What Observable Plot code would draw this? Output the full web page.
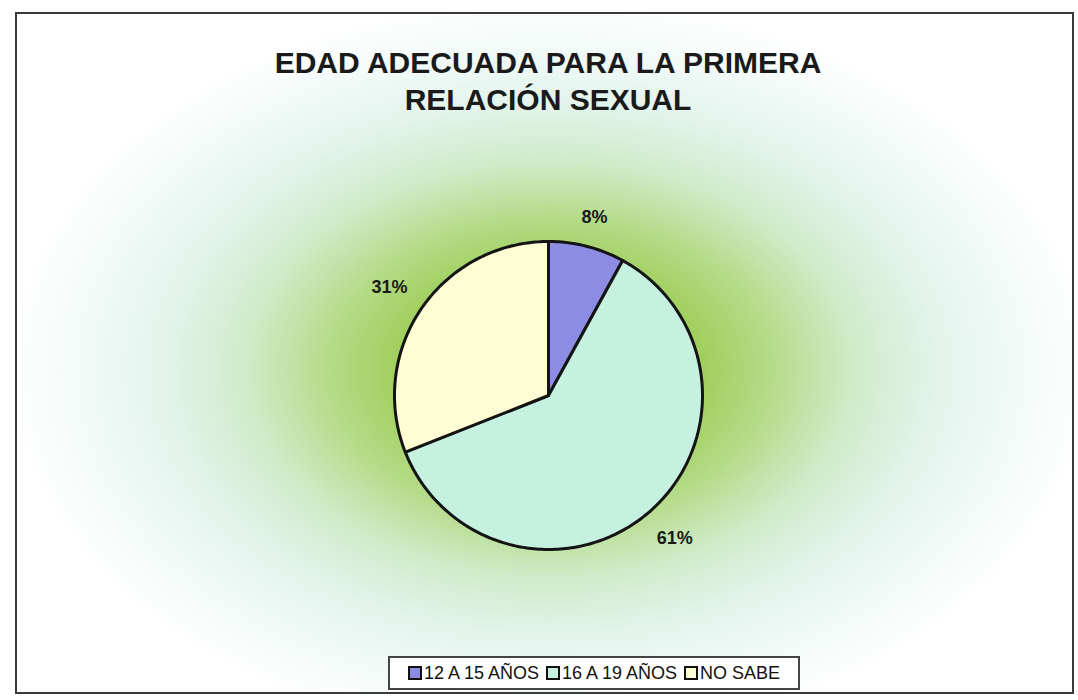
<!DOCTYPE html>
<html>
<head>
<meta charset="utf-8">
<script src="https://cdn.jsdelivr.net/npm/d3@7"></script>
<script src="https://cdn.jsdelivr.net/npm/@observablehq/plot@0.6"></script>
<style>
  html, body { margin: 0; padding: 0; background: #fff; }
  body { width: 1078px; height: 700px; position: relative; overflow: hidden; font-family: "Liberation Sans", Arial, sans-serif; }
  #frame {
    position: absolute; left: 15px; top: 12px; width: 1055px; height: 678px;
    border: 2px solid #3a3a3a;
    background:
      radial-gradient(ellipse 540px 370px at 533px 355px,
        #8cc33a 0%, #97ca4a 22%, #b3da84 40%, #cfebc8 56%, #e2f4ec 72%, #f2faf8 87%, #ffffff 100%);
  }
  #title {
    position: absolute; left: 0; top: 44px; width: 1096px; text-align: center;
    font-size: 30px; font-weight: bold; line-height: 37px; color: #1a1a1a;
  }
  #chart { position: absolute; left: 0; top: 0; }
  #legend {
    position: absolute; left: 388px; top: 656px; width: 408px; height: 30px;
    border: 2px solid #444; background: #fff;
    display: flex; align-items: center; justify-content: center; gap: 7px;
    font-size: 18px; color: #111; white-space: nowrap;
  }
  #legend .item { display: flex; align-items: center; gap: 2px; }
  #legend .sw { width: 10px; height: 10px; border: 2px solid #111; display: inline-block; }
</style>
</head>
<body>
<div id="frame"></div>
<div id="chart"></div>
<div id="title">EDAD ADECUADA PARA LA PRIMERA<br>RELACIÓN SEXUAL</div>
<div id="legend"></div>
<script>
const categories = ["12 A 15 AÑOS", "16 A 19 AÑOS", "NO SABE"];
const values = [8, 61, 31];
const percentLabels = ["8%", "61%", "31%"];
const colors = ["#8c8ce2", "#c6f0e0", "#fffdd4"];

// Build slice polygons (clockwise from 12 o'clock) in unit-circle coordinates
const total = d3.sum(values);
const slices = [];
const labelData = [];
let acc = 0;
values.forEach((v, i) => {
  const a0 = acc / total * 2 * Math.PI;
  acc += v;
  const a1 = acc / total * 2 * Math.PI;
  const n = Math.max(2, Math.ceil((a1 - a0) / (Math.PI / 180)));
  slices.push({cat: categories[i], x: 0, y: 0});
  for (let k = 0; k <= n; k++) {
    const a = a0 + (a1 - a0) * k / n;
    slices.push({cat: categories[i], x: Math.sin(a), y: Math.cos(a)});
  }
  slices.push({cat: categories[i], x: 0, y: 0});
  const m = (a0 + a1) / 2;
  const sx = Math.sin(m), sy = Math.cos(m);
  // radius outside the pie, pushed by half of the label box along the direction
  const halfW = percentLabels[i].length * 5.5 / 154;
  const halfH = 8 / 154;
  const rr = 1 + 20 / 154 + halfW * Math.abs(sx) + halfH * Math.abs(sy);
  labelData.push({text: percentLabels[i], x: sx * rr, y: sy * rr});
});

const R = 154, cx = 548, cy = 395, W = 1078, H = 700;
const chart = Plot.plot({
  width: W, height: H,
  marginLeft: cx - R, marginRight: W - (cx + R),
  marginTop: cy - R, marginBottom: H - (cy + R),
  style: {background: "transparent", overflow: "visible"},
  x: {domain: [-1, 1], axis: null},
  y: {domain: [-1, 1], axis: null},
  color: {domain: categories, range: colors},
  marks: [
    Plot.line(slices, {x: "x", y: "y", z: "cat", fill: "cat", stroke: "#141414", strokeWidth: 3, strokeLinejoin: "round"}),
    Plot.text(labelData, {x: "x", y: "y", text: "text", fontSize: 18, fontWeight: "bold", fill: "#1a1a1a",
      fontFamily: "Liberation Sans, Arial, sans-serif"})
  ]
});
document.getElementById("chart").appendChild(chart);

const legend = document.getElementById("legend");
categories.forEach((c, i) => {
  const item = document.createElement("span");
  item.className = "item";
  const sw = document.createElement("span");
  sw.className = "sw";
  sw.style.background = colors[i];
  item.appendChild(sw);
  item.appendChild(document.createTextNode(c));
  legend.appendChild(item);
});
</script>
</body>
</html>
